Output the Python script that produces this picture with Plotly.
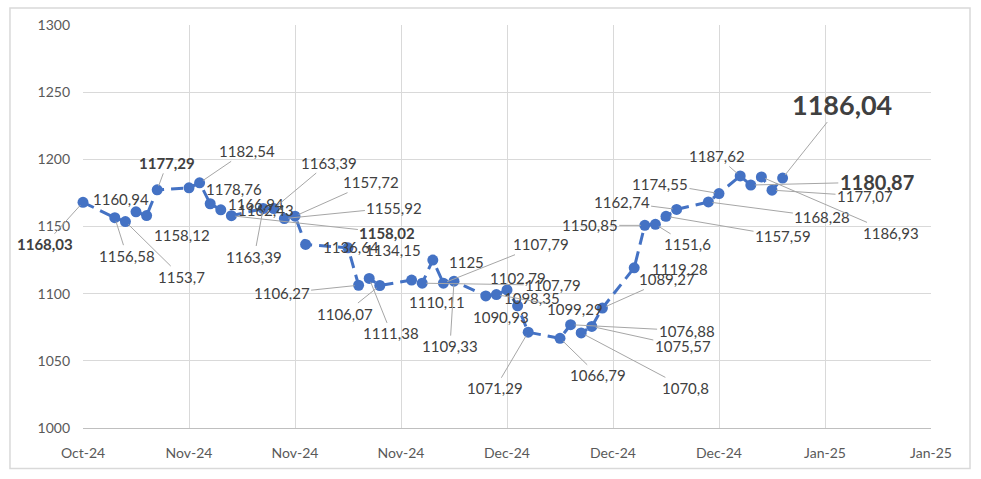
import plotly.graph_objects as go

# ---- data ----
dates = [
    "2024-10-25",
    "2024-10-28", "2024-10-29", "2024-10-30", "2024-10-31", "2024-11-01",
    "2024-11-04", "2024-11-05", "2024-11-06", "2024-11-07", "2024-11-08",
    "2024-11-11", "2024-11-12", "2024-11-13", "2024-11-14", "2024-11-15",
    "2024-11-19", "2024-11-20", "2024-11-21", "2024-11-22",
    "2024-11-25", "2024-11-26", "2024-11-27", "2024-11-28", "2024-11-29",
    "2024-12-02", "2024-12-03", "2024-12-04", "2024-12-05", "2024-12-06",
    "2024-12-09", "2024-12-10", "2024-12-11", "2024-12-12", "2024-12-13",
    "2024-12-16", "2024-12-17", "2024-12-18", "2024-12-19", "2024-12-20",
    "2024-12-23", "2024-12-24", "2024-12-26", "2024-12-27", "2024-12-28",
    "2024-12-29", "2024-12-30",
]
values = [
    1168.03,
    1156.58, 1153.70, 1160.94, 1158.12, 1177.29,
    1178.76, 1182.54, 1166.94, 1162.43, 1158.02,
    1163.39, 1163.39, 1155.92, 1157.72, 1136.64,
    1134.15, 1106.27, 1111.38, 1106.07,
    1110.11, 1107.79, 1125.00, 1107.79, 1109.33,
    1098.35, 1099.29, 1102.79, 1090.93, 1071.29,
    1066.79, 1076.88, 1070.80, 1075.57, 1089.27,
    1119.28, 1150.85, 1151.60, 1157.59, 1162.74,
    1168.28, 1174.55, 1187.62, 1180.87, 1186.93,
    1177.07, 1186.04,
]
y_ticks = [1000, 1050, 1100, 1150, 1200, 1250, 1300]

# ---- label layout (pixel offsets of label centre from its point, leader flag, style) ----
# (dx, dy, leader, style)  style: n = normal, b = bold, B = bold large, H = bold huge
label_layout = [
    (-38, 42, True, "b"),
    (12, 38, True, "n"), (56, 55, True, "n"), (-15, -13, False, "n"), (35, 19, False, "n"), (10, -27, True, "b"),
    (45, 1, False, "n"), (47, -32, True, "n"), (46, 0, False, "n"), (45, 0, False, "n"), (156, 17, True, "b"),
    (-9, 48, True, "n"), (55, -46, True, "n"), (110, -11, True, "n"), (76, -34, True, "n"), (45, 3, False, "n"),
    (45, 2, False, "n"), (-77, 8, True, "n"), (22, 55, True, "n"), (-35, 28, True, "n"),
    (25, 22, False, "n"), (131, 2, True, "n"), (34, 2, False, "n"), (98, -39, True, "n"), (-4, 65, True, "n"),
    (46, 2, False, "n"), (79, 14, True, "n"), (11, -12, False, "n"), (-17, 11, False, "n"), (-33, 56, True, "n"),
    (38, 37, True, "n"), (116, 6, True, "n"), (104, 55, True, "n"), (91, 20, True, "n"), (65, -29, True, "n"),
    (46, 1, False, "n"), (-55, 0, True, "n"), (32, 20, True, "n"), (117, 20, True, "n"), (-55, -7, True, "n"),
    (114, 15, True, "n"), (-59, -10, True, "n"), (-23, -20, True, "n"), (126, -3, True, "B"), (130, 56, True, "n"),
    (93, 6, True, "n"), (59, -74, True, "H"),
]

FONT = "Lato, 'Open Sans', sans-serif"
LABEL_COLOR = "#404040"
style_font = {
    "n": dict(family=FONT, size=15, color=LABEL_COLOR),
    "b": dict(family=FONT, size=15, color=LABEL_COLOR, weight="bold"),
    "B": dict(family=FONT, size=20, color=LABEL_COLOR, weight="bold"),
    "H": dict(family=FONT, size=27, color=LABEL_COLOR, weight="bold"),
}


def fmt(v):
    s = f"{v:.2f}".rstrip("0").rstrip(".")
    return s.replace(".", ",")


fig = go.Figure()
fig.add_trace(go.Scatter(
    x=dates, y=values, mode="lines+markers",
    line=dict(color="#4472C4", width=3, dash="12px,7px"),
    marker=dict(color="#4472C4", size=11),
    hoverinfo="skip", showlegend=False, cliponaxis=False,
))

annotations = []
for d, v, (dx, dy, leader, st) in zip(dates, values, label_layout):
    if leader:
        annotations.append(dict(
            x=d, y=v, text=fmt(v), showarrow=True, ax=dx, ay=dy,
            arrowhead=0, arrowwidth=1, arrowcolor="#a6a6a6", standoff=4,
            font=style_font[st],
        ))
    else:
        annotations.append(dict(
            x=d, y=v, text=fmt(v), showarrow=False, xshift=dx, yshift=-dy,
            font=style_font[st],
        ))

fig.update_layout(
    width=981, height=479,
    margin=dict(l=83, r=50, t=25, b=51),
    paper_bgcolor="white", plot_bgcolor="white",
    font=dict(family=FONT, size=14, color="#595959"),
    annotations=annotations,
    shapes=[dict(
        type="rect", xref="paper", yref="paper",
        x0=-0.0861, x1=1.046, y0=-0.1006, y1=1.042,
        line=dict(color="#d9d9d9", width=1.5), fillcolor="rgba(0,0,0,0)",
        layer="below",
    )],
    xaxis=dict(
        type="date", range=["2024-10-25", "2025-01-13"],
        tick0="2024-10-25", dtick=10 * 86400000, tickformat="%b-%y",
        showgrid=True, gridcolor="#d9d9d9", gridwidth=1,
        showline=True, linecolor="#bfbfbf", linewidth=1,
        ticks="", ticklabelstandoff=12, zeroline=False,
        tickfont=dict(family=FONT, size=14, color="#595959"),
    ),
    yaxis=dict(
        range=[1000, 1300], tickvals=y_ticks,
        showgrid=True, gridcolor="#d9d9d9", gridwidth=1,
        showline=False, ticks="", ticklabelstandoff=12, zeroline=False,
        tickfont=dict(family=FONT, size=14, color="#595959"),
    ),
)

fig.write_html("out.html")
